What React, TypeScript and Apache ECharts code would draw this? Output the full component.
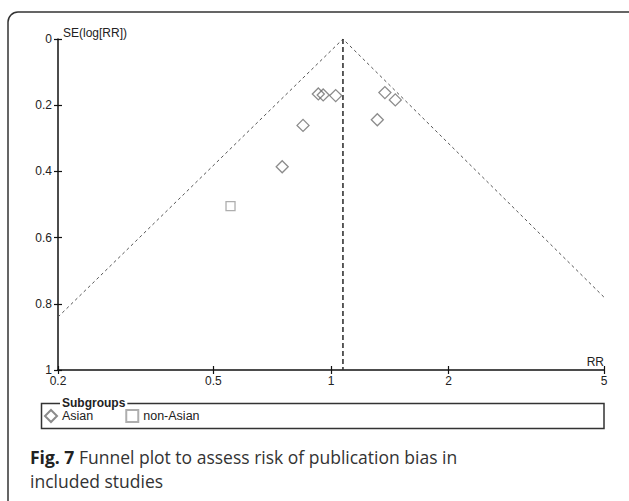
import React, { useEffect, useRef } from "react";
import * as echarts from "echarts";

// RR tick labels on the log x axis
const xTicks = [0.2, 0.5, 1, 2, 5];
// SE axis range
const yMin = 0;
const yMax = 1;
const yInterval = 0.2;

// Study estimates: [RR, SE(log[RR])]
const asianRR = [0.928, 0.955, 1.028, 1.374, 1.461, 1.314, 0.848, 0.75];
const asianSE = [0.166, 0.169, 0.171, 0.162, 0.184, 0.244, 0.261, 0.386];
const nonAsianRR = [0.553];
const nonAsianSE = [0.505];

// Pooled estimate and funnel limits
const pooledRR = 1.073;
const funnelRR = [0.2, 1.073, 5];
const funnelSE = [0.84, 0, 0.78];

const FONT = "'Liberation Sans', Arial, sans-serif";
const lg = (v: number) => Math.log10(v);

function labelFor(v: number): string {
  for (const t of xTicks) {
    if (Math.abs(lg(t) - v) < 1e-6) return String(t);
  }
  return "";
}

export default function App() {
  const ref = useRef<HTMLDivElement>(null);
  useEffect(() => {
    if (!ref.current) return;
    const chart = echarts.init(ref.current, null, { renderer: "svg" });
    const xMin = lg(xTicks[0]);
    const xMax = lg(xTicks[xTicks.length - 1]);
    const tickVals = xTicks.map(lg);
    const axisBase = {
      type: "value" as const,
      min: xMin,
      max: xMax,
      splitLine: { show: false },
    };
    chart.setOption({
      animation: false,
      backgroundColor: "#fff",
      grid: { left: 58, right: 25, top: 39, bottom: 131, containLabel: false },
      xAxis: [
        {
          ...axisBase,
          position: "bottom",
          name: "RR",
          nameLocation: "end",
          nameGap: 0,
          nameTextStyle: {
            fontFamily: FONT,
            fontSize: 12,
            color: "#222",
            align: "right",
            verticalAlign: "bottom",
            padding: [0, 0, 2, 0],
          },
          axisLine: { show: true, onZero: false, lineStyle: { color: "#111", width: 1.5 } },
          axisTick: { show: true, length: 4, customValues: tickVals, lineStyle: { color: "#111", width: 1.2 } },
          axisLabel: {
            show: true,
            customValues: tickVals,
            formatter: (v: number) => labelFor(v),
            fontFamily: FONT,
            fontSize: 12,
            color: "#222",
            margin: 5,
          },
        },
        {
          ...axisBase,
          position: "bottom",
          axisLine: { show: false, onZero: false },
          axisTick: { show: true, inside: true, length: 4, customValues: tickVals, lineStyle: { color: "#111", width: 1.2 } },
          axisLabel: { show: false },
        },
      ],
      yAxis: [
        {
          type: "value",
          position: "left",
          inverse: true,
          min: yMin,
          max: yMax,
          interval: yInterval,
          name: "SE(log[RR])",
          nameLocation: "start",
          nameGap: 0,
          nameTextStyle: {
            fontFamily: FONT,
            fontSize: 12,
            color: "#222",
            align: "left",
            verticalAlign: "bottom",
            padding: [0, 0, 0, 5],
          },
          splitLine: { show: false },
          axisLine: { show: true, onZero: false, lineStyle: { color: "#111", width: 1.5 } },
          axisTick: { show: true, length: 4, lineStyle: { color: "#111", width: 1.2 } },
          axisLabel: {
            fontFamily: FONT,
            fontSize: 12,
            color: "#222",
            margin: 6,
            formatter: (v: number) => String(Math.round(v * 10) / 10),
          },
        },
        {
          type: "value",
          inverse: true,
          min: yMin,
          max: yMax,
          interval: yInterval,
          position: "left",
          splitLine: { show: false },
          axisLine: { show: false, onZero: false },
          axisTick: { show: true, inside: true, length: 4, lineStyle: { color: "#111", width: 1.2 } },
          axisLabel: { show: false },
        },
      ],
      legend: {
        data: ["Asian", "non-Asian"],
        left: 44,
        top: 409,
        itemGap: 32,
        itemWidth: 12,
        itemHeight: 12,
        padding: 0,
        textStyle: { fontFamily: FONT, fontSize: 12.5, color: "#222", padding: [5, 0, 0, 0] },
      },
      series: [
        {
          name: "funnel",
          type: "line",
          data: funnelRR.map((r, i) => [lg(r), funnelSE[i]]),
          symbol: "none",
          silent: true,
          lineStyle: { color: "#555", width: 1, type: [3, 3] },
          z: 1,
        },
        {
          name: "pooled",
          type: "line",
          data: [
            [lg(pooledRR), yMin],
            [lg(pooledRR), yMax],
          ],
          symbol: "none",
          silent: true,
          lineStyle: { color: "#333", width: 1.6, type: [5, 3] },
          z: 1,
        },
        {
          name: "Asian",
          type: "scatter",
          symbol: "diamond",
          symbolSize: 12,
          data: asianRR.map((r, i) => [lg(r), asianSE[i]]),
          itemStyle: { color: "rgba(255,255,255,0)", borderColor: "#6e6e6e", borderWidth: 1.3 },
          z: 3,
        },
        {
          name: "non-Asian",
          type: "scatter",
          symbol: "rect",
          symbolSize: 9,
          data: nonAsianRR.map((r, i) => [lg(r), nonAsianSE[i]]),
          itemStyle: { color: "rgba(255,255,255,0)", borderColor: "#9a9a9a", borderWidth: 1.3 },
          z: 3,
        },
      ],
      graphic: [
        {
          type: "rect",
          shape: { x: 8, y: 12, width: 640, height: 540, r: 10 },
          style: { fill: "none", stroke: "#333", lineWidth: 1.5 },
          silent: true,
          z: 0,
        },
        {
          type: "rect",
          shape: { x: 41.5, y: 403.5, width: 562.5, height: 25 },
          style: { fill: "none", stroke: "#333", lineWidth: 1.5 },
          silent: true,
          z: 0,
        },
        {
          type: "text",
          x: 60,
          y: 403,
          style: {
            text: "Subgroups",
            fontFamily: FONT,
            fontSize: 12,
            fontWeight: "bold",
            fill: "#222",
            verticalAlign: "middle",
            backgroundColor: "#fff",
            padding: [0, 2, 0, 2],
          },
          z: 5,
        },
        {
          type: "text",
          x: 30,
          y: 445,
          style: {
            text: "{b|Fig. 7} Funnel plot to assess risk of publication bias in\nincluded studies",
            fontFamily: "'Open Sans', sans-serif",
            fontSize: 17.5,
            lineHeight: 24,
            fill: "#333",
            rich: {
              b: {
                fontFamily: "'Open Sans', sans-serif",
                fontSize: 17.5,
                lineHeight: 24,
                fontWeight: "bold",
                fill: "#222",
              },
            },
          },
          z: 5,
        },
      ],
    });
    return () => chart.dispose();
  }, []);
  return (
    <div
      ref={ref}
      style={{ position: "fixed", left: 0, top: 0, width: 629, height: 501, background: "#fff" }}
    />
  );
}
